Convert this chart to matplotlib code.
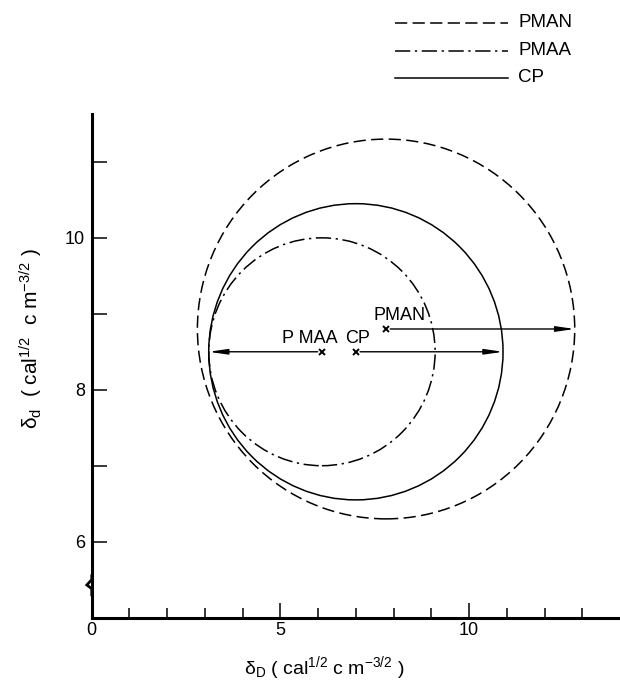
import matplotlib
matplotlib.use("Agg")
import matplotlib.pyplot as plt
from matplotlib.patches import Ellipse
from matplotlib.lines import Line2D

# Hansen-type solubility circles: centre (dp, dd) and radius R
names     = ["PMAN", "PMAA", "CP"]
center_dp = [7.8, 6.1, 7.0]
center_dd = [8.8, 8.5, 8.5]
radius    = [5.0, 3.0, 3.9]
arrow_dir = [1, -1, 1]           # arrow towards right / left edge

x_major = [0, 5, 10]
x_minor = [1, 2, 3, 4, 6, 7, 8, 9, 11, 12, 13]
y_ticks = [6, 7, 8, 9, 10, 11]
y_labels = ["6", "", "8", "", "10", ""]

plt.rcParams["font.family"] = ["Liberation Sans", "DejaVu Sans"]
plt.rcParams["mathtext.fontset"] = "custom"
plt.rcParams["mathtext.rm"] = "Liberation Sans"
plt.rcParams["mathtext.it"] = "Liberation Sans:italic"

styles = {"PMAN": (0, (8, 3.5)), "PMAA": (0, (10, 3, 1.5, 3)), "CP": "-"}

fig = plt.figure(figsize=(6.2, 6.87), dpi=100)
ax = fig.add_axes([0.148, 0.101, 0.852, 0.733])
ax.set_xlim(0, 14)
ax.set_ylim(5.0, 11.63)

for n, cx, cy, r, d in zip(names, center_dp, center_dd, radius, arrow_dir):
    # radius in the dd direction is R/2 (Hansen 4*dd^2 scaling)
    ax.add_patch(Ellipse((cx, cy), 2 * r, r, fill=False, lw=1.1,
                         ls=styles[n], ec="black"))
    ax.plot(cx, cy, marker="x", color="black", ms=5, mew=1.4)
    ax.annotate("", xy=(cx + d * r, cy), xytext=(cx, cy),
                arrowprops=dict(arrowstyle="-|>,head_length=1.1,head_width=0.16",
                                lw=1.0, color="black", mutation_scale=10,
                                shrinkA=3, shrinkB=0))

# centre labels
ax.annotate("PMAN", (center_dp[0], center_dd[0]), xytext=(9.5, 6.5),
            textcoords="offset points", ha="center", va="baseline", fontsize=13)
ax.annotate("P MAA", (center_dp[1], center_dd[1]), xytext=(11, 6.5),
            textcoords="offset points", ha="right", va="baseline", fontsize=13)
ax.annotate("CP", (center_dp[2], center_dd[2]), xytext=(1.5, 6.5),
            textcoords="offset points", ha="center", va="baseline", fontsize=13)

# axes look
for s in ["top", "right"]:
    ax.spines[s].set_visible(False)
ax.spines["left"].set_linewidth(2.2)
ax.spines["bottom"].set_linewidth(2.2)
ax.set_xticks(x_major)
ax.set_xticks(x_minor, minor=True)
ax.set_yticks(y_ticks)
ax.set_yticklabels(y_labels)
ax.tick_params(axis="x", which="major", direction="in", length=11, width=1.1,
               labelsize=13, pad=3)
ax.tick_params(axis="x", which="minor", direction="in", length=7, width=1.1)
ax.tick_params(axis="y", which="major", direction="in", length=11, width=1.1,
               labelsize=13, pad=5)

# axis break mark on the y axis
ax.plot([0, 0, -0.13, 0, 0], [5.30, 5.38, 5.43, 5.50, 5.55], color="black",
        lw=2.0, clip_on=False, solid_joinstyle="miter")

ax.set_xlabel(r"δ$_\mathrm{D}$ ( cal$^{1/2}$ c m$^{-3/2}$ )", fontsize=14)
ax.xaxis.set_label_coords(0.44, -0.072)
ax.set_ylabel(r"δ$_\mathrm{d}$  ( cal$^{1/2}$  c m$^{-3/2}$ )", fontsize=15)
ax.yaxis.set_label_coords(-0.088, 0.555)

# key at top right
key_y = [1 - 22.7 / 687, 1 - 50.7 / 687, 1 - 78.0 / 687]
for n, ky in zip(names, key_y):
    fig.add_artist(Line2D([395 / 620, 508 / 620], [ky, ky], color="black",
                          lw=1.1, ls=styles[n]))
    fig.text(518 / 620, ky, n, fontsize=13.5, va="center", ha="left")

fig.savefig("out.png", dpi=100)
